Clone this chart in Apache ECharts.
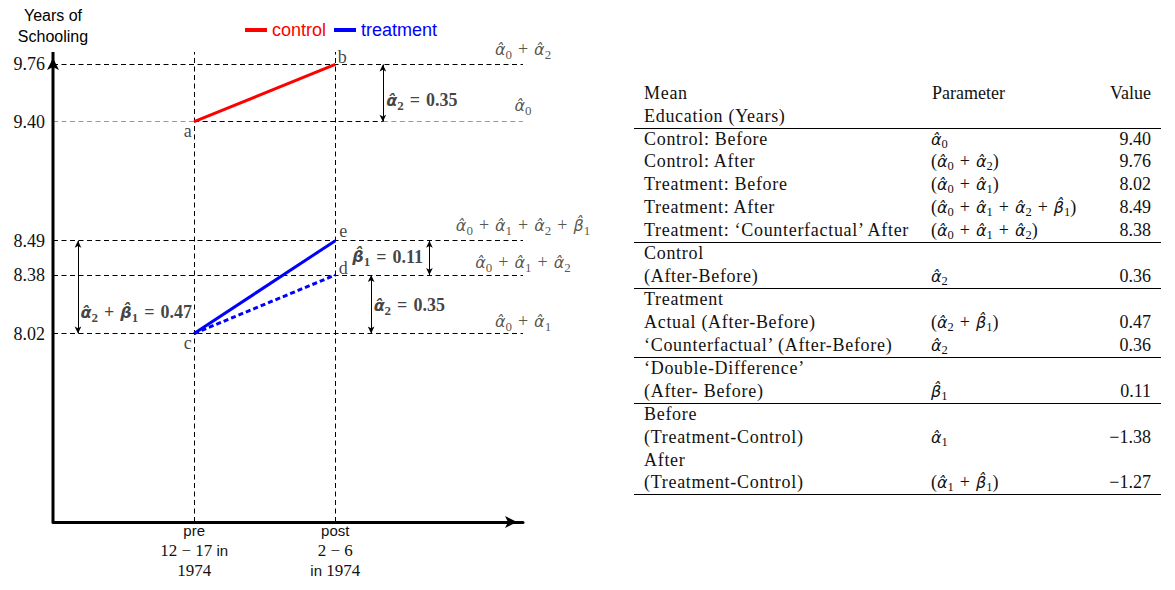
<!DOCTYPE html>
<html>
<head>
<meta charset="utf-8">
<script src="https://cdn.jsdelivr.net/npm/echarts@6/dist/echarts.min.js"></script>
<style>
  html, body { margin: 0; padding: 0; background: #fff; }
  #chart { position: absolute; left: 0; top: 0; width: 1175px; height: 590px; }
  #table { position: absolute; left: 0; top: 0; width: 1175px; height: 590px; pointer-events: none;
           font-family: "Liberation Serif", serif; font-size: 18px; color: #111; }
  .cell { position: absolute; white-space: nowrap; height: 23px; line-height: 23px; }
  .lab { letter-spacing: 0.7px; }
  .g { font-family: "DejaVu Sans", sans-serif; font-style: italic; font-size: 16px; }
  sub { font-size: 12.5px; vertical-align: -3px; line-height: 0; }
  .op { margin: 0 6px; }
  .rule { position: absolute; left: 634px; width: 527px; height: 1px; background: #000; }
</style>
</head>
<body>
<div id="chart"></div>
<div id="table"></div>
<script>
// ---------------- data ----------------
const categories = ['pre', 'post'];                 // x positions 1 and 2
const xTickLabels = ['pre\n12 − 17 in\n1974', 'post\n2 − 6\nin 1974'];
const yTickValues = [9.76, 9.40, 8.49, 8.38, 8.02];
const controlValues = [9.40, 9.76];
const treatmentValues = [8.02, 8.49];
const counterfactualValues = [8.02, 8.38];
const pointNames = ['a', 'b', 'c', 'e', 'd'];
const levelLabels = ['α̂₀ + α̂₂', 'α̂₀', 'α̂₀ + α̂₁ + α̂₂ + β̂₁', 'α̂₀ + α̂₁ + α̂₂', 'α̂₀ + α̂₁'];
const diffNames = ['α̂₂', 'β̂₁', 'α̂₂', 'α̂₂ + β̂₁'];
const diffValues = [0.35, 0.11, 0.35, 0.47];
const legendNames = ['control', 'treatment'];
const yAxisName = 'Years of\nSchooling';

const tableHeadLabel = ['Mean', 'Education (Years)'];
const tableHeadParam = 'Parameter';
const tableHeadValue = 'Value';
const tableLabels = ['Control: Before', 'Control: After', 'Treatment: Before', 'Treatment: After',
  'Treatment: ‘Counterfactual’ After', 'Control', '(After-Before)', 'Treatment', 'Actual (After-Before)',
  '‘Counterfactual’ (After-Before)', '‘Double-Difference’', '(After- Before)', 'Before',
  '(Treatment-Control)', 'After', '(Treatment-Control)'];
const tableParams = ['α̂₀', '(α̂₀ + α̂₂)', '(α̂₀ + α̂₁)', '(α̂₀ + α̂₁ + α̂₂ + β̂₁)', '(α̂₀ + α̂₁ + α̂₂)',
  '', 'α̂₂', '', '(α̂₂ + β̂₁)', 'α̂₂', '', 'β̂₁', '', 'α̂₁', '', '(α̂₁ + β̂₁)'];
const tableValues = [9.40, 9.76, 8.02, 8.49, 8.38, null, 0.36, null, 0.47, 0.36, null, 0.11, null, -1.38, null, -1.27];
const tableRulesAfter = [4, 6, 9, 11, 15];

// ---------------- layout / style ----------------
const SERIF = '"Liberation Serif", serif';
const GREEK = '"DejaVu Sans", sans-serif';
const SANS = '"Liberation Sans", sans-serif';
const X_MAX = 3.33;
const Y_MIN = 7.416, Y_MAX = 9.80;
const DASH = [5, 3.5];
const MATH_COLOR = '#2b2b22';
const COMB_HAT = '\u0302';
const SUBS = '₀₁₂₃₄₅₆₇₈₉';

// math string -> ECharts rich text
function mathRich(str) {
  let out = '', buf = '';
  function flush() { if (buf) { out += '{t|' + buf + '}'; buf = ''; } }
  const chars = Array.from(str);
  for (let i = 0; i < chars.length; i++) {
    const ch = chars[i];
    if (ch === 'α' || ch === 'β') {
      flush();
      let g = ch;
      if (chars[i + 1] === COMB_HAT) { g += COMB_HAT; i++; }
      out += '{g|' + g + '}';
    } else if (SUBS.indexOf(ch) >= 0) {
      flush();
      out += '{u|' + SUBS.indexOf(ch) + '}';
    } else if ((ch === '+' || ch === '=') && chars[i - 1] === ' ' && chars[i + 1] === ' ') {
      buf = buf.slice(0, -1);
      buf += '\u2004' + ch + '\u2004';
      i++;
    } else {
      buf += ch;
    }
  }
  flush();
  return out;
}
function mathStyles(size, bold, color) {
  const L = Math.round(size * 1.25);
  const w = bold ? 'bold' : 'normal';
  const base = { fontFamily: SERIF, fontSize: size, fontWeight: w, color: color, lineHeight: L };
  return {
    t: base,
    g: Object.assign({}, base, { fontFamily: GREEK, fontStyle: 'italic', fontSize: Math.round(size * 0.9) }),
    u: Object.assign({}, base, { fontSize: Math.round(size * 0.7), lineHeight: Math.round(L * 0.55), verticalAlign: 'bottom' })
  };
}
// math string -> HTML
function mathHTML(str) {
  let out = '';
  const chars = Array.from(str);
  for (let i = 0; i < chars.length; i++) {
    const ch = chars[i];
    if (ch === 'α' || ch === 'β') {
      let g = ch;
      if (chars[i + 1] === COMB_HAT) { g += COMB_HAT; i++; }
      out += '<span class="g">' + g + '</span>';
    } else if (SUBS.indexOf(ch) >= 0) {
      out += '<sub>' + SUBS.indexOf(ch) + '</sub>';
    } else if (ch === '+' && chars[i - 1] === ' ' && chars[i + 1] === ' ') {
      out = out.replace(/ $/, '');
      out += '<span class="op">+</span>';
      i++;
    } else {
      out += ch;
    }
  }
  return out;
}

const xPre = 1, xPost = 2;
const pts = [
  [xPre, controlValues[0]], [xPost, controlValues[1]],
  [xPre, treatmentValues[0]], [xPost, treatmentValues[1]], [xPost, counterfactualValues[1]]
];
const ptOffsets = [[-6.5, 9], [7, -7], [-6.5, 9.5], [8, -10], [8, -7]];

const levels = [controlValues[1], controlValues[0], treatmentValues[1], counterfactualValues[1], treatmentValues[0]];
const levelLabelDist = [3, 4.5, 3.5, 1, 0.5];

// annotation arrows: x position, from, to, label placement
const arrows = [
  { x: 2.337, from: controlValues[0], to: controlValues[1], pos: 'right', dist: 3, dy: -21.5 },
  { x: 2.667, from: counterfactualValues[1], to: treatmentValues[1], pos: 'left', dist: 6, dy: -18.5 },
  { x: 2.254, from: counterfactualValues[0], to: counterfactualValues[1], pos: 'right', dist: 2, dy: -28.5 },
  { x: 0.177, from: treatmentValues[0], to: treatmentValues[1], pos: 'right', dist: 2, dy: -21.5 }
];

const guideLines = [{ xAxis: xPre }, { xAxis: xPost }];
levels.forEach(function (v, i) {
  if (i === 1) {
    guideLines.push([{ coord: [0, v], lineStyle: { color: '#9a9a9a' } }, { coord: [xPre, v] }]);
    guideLines.push([{ coord: [xPre, v] }, { coord: [arrows[0].x, v] }]);
    guideLines.push([{ coord: [arrows[0].x, v], lineStyle: { color: '#9a9a9a' } }, { coord: [X_MAX, v] }]);
  } else {
    guideLines.push([{ coord: [0, v] }, { coord: [X_MAX, v] }]);
  }
});

const chart = echarts.init(document.getElementById('chart'), null, { renderer: 'svg' });

const option = {
  animation: false,
  legend: {
    data: [
      { name: legendNames[0], textStyle: { color: '#ff0000' } },
      { name: legendNames[1], textStyle: { color: '#0000ff' } }
    ],
    left: 240, top: 16, icon: 'rect', itemWidth: 22, itemHeight: 4, itemGap: 8,
    textStyle: { fontFamily: SANS, fontSize: 18 },
    selectedMode: false
  },
  grid: { left: 53, right: 652, top: 52, bottom: 68, containLabel: false, outerBoundsMode: 'none' },
  xAxis: {
    type: 'value', min: 0, max: X_MAX,
    axisLine: { show: true, onZero: false, lineStyle: { color: '#000', width: 3 },
      symbol: ['none', 'arrow'], symbolSize: [9, 12], symbolOffset: [0, -6] },
    axisTick: { show: false },
    splitLine: { show: false },
    axisLabel: {
      customValues: [xPre, xPost],
      margin: -2,
      formatter: function (v) {
        const txt = xTickLabels[Math.round(v) - 1] || '';
        return txt.split('\n').map(function (line) {
          return line.split(' ').map(function (w) {
            return /^[a-z]+$/.test(w) ? '{s|' + w + '}' : '{m|' + w + '}';
          }).join('{m| }');
        }).join('\n');
      },
      rich: {
        s: { fontFamily: SANS, fontSize: 15, lineHeight: 20, color: '#111' },
        m: { fontFamily: SERIF, fontSize: 17, lineHeight: 20, color: '#111' }
      }
    }
  },
  yAxis: {
    type: 'value', min: Y_MIN, max: Y_MAX,
    breaks: [
      { start: 8.03, end: 8.37, gap: 0.1675 },
      { start: 8.50, end: 9.39, gap: 0.3614 },
      { start: 9.41, end: 9.75, gap: 0.1633 }
    ],
    breakArea: { show: false },
    axisLine: { show: false },
    axisTick: { show: false },
    splitLine: { show: false },
    axisLabel: {
      customValues: yTickValues,
      formatter: function (v) { return v.toFixed(2); },
      fontFamily: SERIF, fontSize: 18, color: '#111', margin: 8
    },
    name: yAxisName, nameLocation: 'end', nameGap: 5,
    nameTextStyle: { fontFamily: SANS, fontSize: 16, lineHeight: 21, color: '#000', align: 'center' }
  },
  series: [
    {
      name: 'guides', type: 'line', data: [[0, levels[4]]], symbol: 'none',
      lineStyle: { opacity: 0 }, silent: true, z: 1,
      markLine: {
        silent: true, symbol: ['none', 'none'], label: { show: false },
        lineStyle: { color: '#000', width: 1, type: DASH },
        emphasis: { disabled: true },
        data: guideLines
      }
    },
    {
      name: 'yAxisLine', type: 'line', clip: false, silent: true, z: 8,
      color: '#000', lineStyle: { color: '#000', width: 3 }, itemStyle: { color: '#000' },
      data: [
        { value: [0, Y_MIN], symbol: 'none' },
        { value: [0, Y_MAX], symbol: 'arrow', symbolSize: [9, 12], symbolOffset: [0, 6] }
      ]
    },
    {
      name: 'arrows', type: 'line', data: [[0, levels[4]]], symbol: 'none',
      lineStyle: { opacity: 0 }, silent: true, z: 2,
      markLine: {
        silent: true, symbol: ['arrow', 'arrow'], symbolSize: [5, 7], label: { show: false },
        lineStyle: { color: '#000', width: 1, type: 'solid' },
        emphasis: { disabled: true },
        data: arrows.map(function (a) { return [{ coord: [a.x, a.from] }, { coord: [a.x, a.to] }]; })
      }
    },
    {
      name: legendNames[0], type: 'line', data: [[xPre, controlValues[0]], [xPost, controlValues[1]]],
      symbol: 'none', color: '#ff0000', lineStyle: { color: '#ff0000', width: 3 }, z: 5
    },
    {
      name: legendNames[1], type: 'line', data: [[xPre, treatmentValues[0]], [xPost, treatmentValues[1]]],
      symbol: 'none', color: '#0000ff', lineStyle: { color: '#0000ff', width: 3 }, z: 5
    },
    {
      name: 'counterfactual', type: 'line', data: [[xPre, counterfactualValues[0]], [xPost, counterfactualValues[1]]],
      symbol: 'none', color: '#0000ff', lineStyle: { color: '#0000ff', width: 3, type: [5, 3] }, z: 4
    },
    {
      name: 'pointLabels', type: 'scatter', symbolSize: 1, itemStyle: { color: 'rgba(0,0,0,0)' }, silent: true, z: 6,
      data: pts.map(function (p, i) {
        return { value: p, label: { show: true, position: 'inside', offset: ptOffsets[i],
          formatter: pointNames[i], fontFamily: SERIF, fontSize: 18, color: '#111' } };
      })
    },
    {
      name: 'levelLabels', type: 'scatter', symbolSize: 1, itemStyle: { color: 'rgba(0,0,0,0)' }, silent: true, z: 6,
      data: levels.map(function (v, i) {
        return { value: [X_MAX, v], label: { show: true, position: 'top', distance: levelLabelDist[i],
          formatter: mathRich(levelLabels[i]), rich: mathStyles(18, false, MATH_COLOR) } };
      })
    },
    {
      name: 'diffLabels', type: 'scatter', symbolSize: 1, itemStyle: { color: 'rgba(0,0,0,0)' }, silent: true, z: 6,
      data: arrows.map(function (a, i) {
        return { value: [a.x, a.from], label: { show: true, position: a.pos, distance: a.dist, offset: [0, a.dy],
          formatter: mathRich(diffNames[i] + ' = ' + diffValues[i].toFixed(2)),
          rich: mathStyles(18, true, '#111') } };
      })
    }
  ]
};
chart.setOption(option);

// ---------------- table ----------------
(function () {
  const root = document.getElementById('table');
  const pitch = 22.93, firstY = 139;
  function add(cls, html, css) {
    const d = document.createElement('div');
    d.className = cls;
    d.innerHTML = html;
    Object.assign(d.style, css);
    root.appendChild(d);
    return d;
  }
  function rowTop(c) { return (c - 11.5) + 'px'; }
  function rule(y) { const r = document.createElement('div'); r.className = 'rule'; r.style.top = y + 'px'; root.appendChild(r); }
  const headY = [firstY - 2 * pitch, firstY - pitch];
  tableHeadLabel.forEach(function (t, i) { add('cell lab', t, { left: '644px', top: rowTop(headY[i]) }); });
  add('cell', tableHeadParam, { left: '932px', top: rowTop(headY[0]) });
  add('cell', tableHeadValue, { right: (1175 - 1151) + 'px', top: rowTop(headY[0]) });
  rule(headY[1] + 11.5);
  tableLabels.forEach(function (t, i) {
    const c = firstY + i * pitch;
    add('cell lab', t, { left: '644px', top: rowTop(c) });
    if (tableParams[i]) add('cell', mathHTML(tableParams[i]), { left: '931px', top: rowTop(c) });
    if (tableValues[i] !== null) add('cell', tableValues[i].toFixed(2).replace('-', '−'), { right: (1175 - 1151) + 'px', top: rowTop(c) });
    if (tableRulesAfter.indexOf(i) >= 0) rule(c + 11.5);
  });
})();
</script>
</body>
</html>
